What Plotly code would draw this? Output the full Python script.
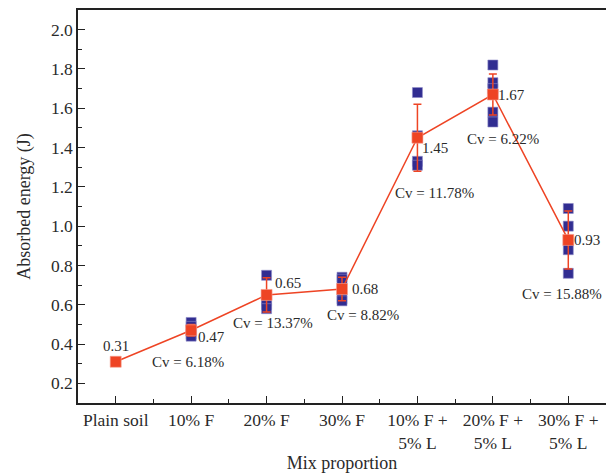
import plotly.graph_objects as go

# Mix proportions on the category axis
categories = ["Plain soil", "10% F", "20% F", "30% F",
              "10% F +<br>5% L", "20% F +<br>5% L", "30% F +<br>5% L"]

# Individual specimen results (J)
samples = [
    [0.31],
    [0.51, 0.49, 0.45, 0.44],
    [0.75, 0.62, 0.60, 0.58],
    [0.74, 0.73, 0.63, 0.62],
    [1.68, 1.46, 1.33, 1.31],
    [1.82, 1.73, 1.70, 1.58, 1.53],
    [1.09, 1.00, 0.88, 0.76],
]

# Mean absorbed energy (J) and coefficient of variation (%)
means = [0.31, 0.47, 0.65, 0.68, 1.45, 1.67, 0.93]
cv_pct = [None, 6.18, 13.37, 8.82, 11.78, 6.22, 15.88]

# Standard deviation from mean and Cv
std = [m * c / 100 if c is not None else 0 for m, c in zip(means, cv_pct)]

BLUE = "#312d91"
RED = "#ee4424"
FONT = "Liberation Serif"
TEXT = "#2a2a2a"

fig = go.Figure()

# scattered specimen points
sx, sy = [], []
for i, vals in enumerate(samples[1:], start=1):
    for v in vals:
        sx.append(i)
        sy.append(v)
fig.add_trace(go.Scatter(
    x=sx, y=sy, mode="markers",
    marker=dict(symbol="square", size=10, color=BLUE,
                line=dict(color="#8f8cc8", width=0.6)),
    showlegend=False, hoverinfo="y"))

# mean line with error bars
fig.add_trace(go.Scatter(
    x=list(range(len(means))), y=means, mode="lines+markers",
    line=dict(color=RED, width=1.5),
    marker=dict(symbol="square", size=11, color=RED,
                line=dict(color="#f6a090", width=0.6)),
    error_y=dict(type="data", array=std, visible=True,
                 color=RED, thickness=1.5, width=4),
    showlegend=False))

# value labels (x offset, y offset in pixels)
value_offsets = [(0, 16), (20, -7), (21, 12), (23, 0), (18, -10), (19, 0), (19, 0)]
for i, (m, (dx, dy)) in enumerate(zip(means, value_offsets)):
    fig.add_annotation(x=i, y=m, text=f"{m:.2f}", showarrow=False,
                       xshift=dx, yshift=dy,
                       font=dict(family=FONT, size=15, color=TEXT))

# Cv labels
cv_offsets = [None, (-3, -32), (6, -28), (21, -26), (17, -55), (10, -44), (-6, -54)]
for i, (c, off) in enumerate(zip(cv_pct, cv_offsets)):
    if c is None:
        continue
    fig.add_annotation(x=i, y=means[i], text=f"Cv = {c:.2f}%", showarrow=False,
                       xshift=off[0], yshift=off[1],
                       font=dict(family=FONT, size=15, color=TEXT))

fig.update_layout(
    width=606, height=476,
    margin=dict(l=78, r=0, t=10, b=73),
    paper_bgcolor="white", plot_bgcolor="white",
    font=dict(family=FONT, size=17, color=TEXT),
)
fig.update_xaxes(
    range=[-0.5, 6.5], tickmode="array",
    tickvals=list(range(len(categories))), ticktext=categories,
    showgrid=False, zeroline=False,
    showline=True, linecolor="#222", linewidth=1.5, mirror=True,
    ticks="inside", ticklen=7, tickcolor="#222", tickwidth=1.2,
    minor=dict(tickvals=[i + 0.5 for i in range(-1, 7)], ticks="inside",
               ticklen=4, tickcolor="#222", tickwidth=1.2),
    tickfont=dict(family=FONT, size=17.5, color=TEXT),
    title=dict(text="Mix proportion", font=dict(family=FONT, size=18, color=TEXT), standoff=5),
)
fig.update_yaxes(
    range=[0.1, 2.1], tickmode="array",
    tickvals=[0.2, 0.4, 0.6, 0.8, 1.0, 1.2, 1.4, 1.6, 1.8, 2.0],
    ticktext=["0.2", "0.4", "0.6", "0.8", "1.0", "1.2", "1.4", "1.6", "1.8", "2.0"],
    showgrid=False, zeroline=False,
    showline=True, linecolor="#222", linewidth=1.5,
    ticks="inside", ticklen=7, tickcolor="#222", tickwidth=1.2,
    minor=dict(tickvals=[0.1, 0.3, 0.5, 0.7, 0.9, 1.1, 1.3, 1.5, 1.7, 1.9], ticks="inside",
               ticklen=4, tickcolor="#222", tickwidth=1.2),
    tickfont=dict(family=FONT, size=17.5, color=TEXT),
    title=dict(text="Absorbed energy (J)", font=dict(family=FONT, size=18, color=TEXT), standoff=16),
)

fig.write_html("out.html")
